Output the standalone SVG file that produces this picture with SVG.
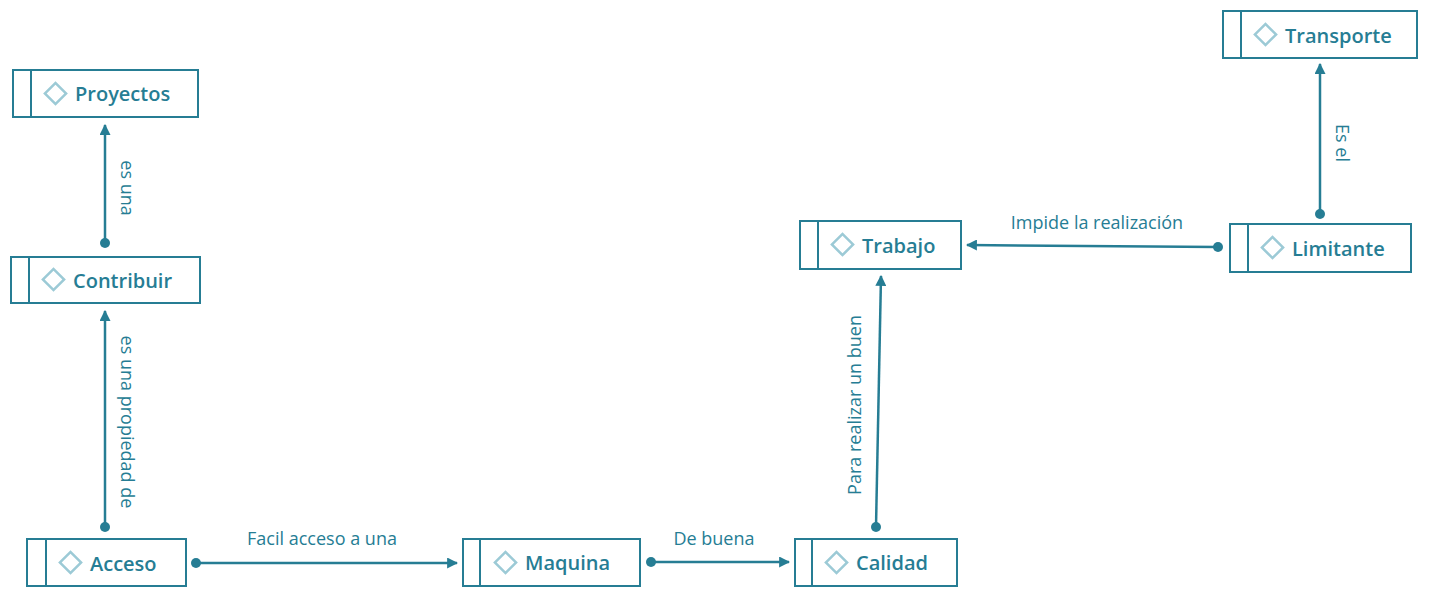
<svg xmlns="http://www.w3.org/2000/svg" width="1429" height="598" viewBox="0 0 1429 598">
<defs>
<style>
.box{fill:#fff;stroke:#267d94;stroke-width:2}
.dv{stroke:#267d94;stroke-width:2}
.dm{fill:#fff;stroke:#9ccad6;stroke-width:2.5}
.nt{font-family:"Open Sans","DejaVu Sans",sans-serif;font-size:20px;font-weight:600;fill:#267d94;dominant-baseline:central}
.e{stroke:#267d94;stroke-width:2.5;fill:none;marker-end:url(#ah)}
.d{fill:#267d94}
.lt{font-family:"Open Sans","DejaVu Sans",sans-serif;font-size:18px;fill:#267d94;text-anchor:middle}
</style>
<marker id="ah" viewBox="0 0 10 10" refX="9" refY="5" markerWidth="4.4" markerHeight="4.4" orient="auto" markerUnits="strokeWidth"><path d="M0,0L10,5L0,10z" fill="#267d94"/></marker>
</defs>
<g id="edges">
<path class="e" d="M105,243V125"/><circle class="d" cx="105" cy="243" r="5"/>
<path class="e" d="M105,527V311"/><circle class="d" cx="105" cy="527" r="5"/>
<path class="e" d="M196,563H457"/><circle class="d" cx="196" cy="563" r="5"/>
<path class="e" d="M651,562H789"/><circle class="d" cx="651" cy="562" r="5"/>
<path class="e" d="M876,527L881,276"/><circle class="d" cx="876" cy="527" r="5"/>
<path class="e" d="M1218,247L967,245"/><circle class="d" cx="1218" cy="247" r="5"/>
<path class="e" d="M1320,214V64"/><circle class="d" cx="1320" cy="214" r="5"/>
<text class="lt" transform="translate(121,188) rotate(90)">es una</text>
<text class="lt" transform="translate(121,422) rotate(90)">es una propiedad de</text>
<text class="lt" x="322" y="545">Facil acceso a una</text>
<text class="lt" x="714" y="545">De buena</text>
<text class="lt" transform="translate(861,405) rotate(-90)">Para realizar un buen</text>
<text class="lt" x="1097" y="229">Impide la realización</text>
<text class="lt" transform="translate(1336,143) rotate(90)">Es el</text>
</g>
<g id="n-proyectos"><rect class="box" x="13" y="70" width="185" height="47"/><line class="dv" x1="31" y1="70" x2="31" y2="117"/><rect class="dm" x="48" y="86" width="15" height="15" transform="rotate(45 55.5 93.5)"/><text class="nt" x="75" y="93">Proyectos</text></g>
<g id="n-contribuir"><rect class="box" x="11" y="257" width="189" height="46"/><line class="dv" x1="29" y1="257" x2="29" y2="303"/><rect class="dm" x="46" y="272" width="15" height="15" transform="rotate(45 53.5 279.5)"/><text class="nt" x="73" y="280">Contribuir</text></g>
<g id="n-acceso"><rect class="box" x="27" y="539" width="159" height="47"/><line class="dv" x1="46" y1="539" x2="46" y2="586"/><rect class="dm" x="63" y="555" width="15" height="15" transform="rotate(45 70.5 562.5)"/><text class="nt" x="90" y="563">Acceso</text></g>
<g id="n-maquina"><rect class="box" x="463" y="539" width="177" height="47"/><line class="dv" x1="480" y1="539" x2="480" y2="586"/><rect class="dm" x="498" y="555" width="15" height="15" transform="rotate(45 505.5 562.5)"/><text class="nt" x="525" y="562">Maquina</text></g>
<g id="n-calidad"><rect class="box" x="795" y="539" width="162" height="47"/><line class="dv" x1="812" y1="539" x2="812" y2="586"/><rect class="dm" x="829" y="555" width="15" height="15" transform="rotate(45 836.5 562.5)"/><text class="nt" x="856" y="562">Calidad</text></g>
<g id="n-trabajo"><rect class="box" x="800" y="221" width="161" height="48"/><line class="dv" x1="818" y1="221" x2="818" y2="269"/><rect class="dm" x="835" y="237" width="15" height="15" transform="rotate(45 842.5 244.5)"/><text class="nt" x="862" y="245">Trabajo</text></g>
<g id="n-limitante"><rect class="box" x="1230" y="224" width="181" height="48"/><line class="dv" x1="1248" y1="224" x2="1248" y2="272"/><rect class="dm" x="1265" y="240" width="15" height="15" transform="rotate(45 1272.5 247.5)"/><text class="nt" x="1292" y="248">Limitante</text></g>
<g id="n-transporte"><rect class="box" x="1223" y="11" width="194" height="47"/><line class="dv" x1="1241" y1="11" x2="1241" y2="58"/><rect class="dm" x="1258" y="27" width="15" height="15" transform="rotate(45 1265.5 34.5)"/><text class="nt" x="1285" y="35">Transporte</text></g>
</svg>
